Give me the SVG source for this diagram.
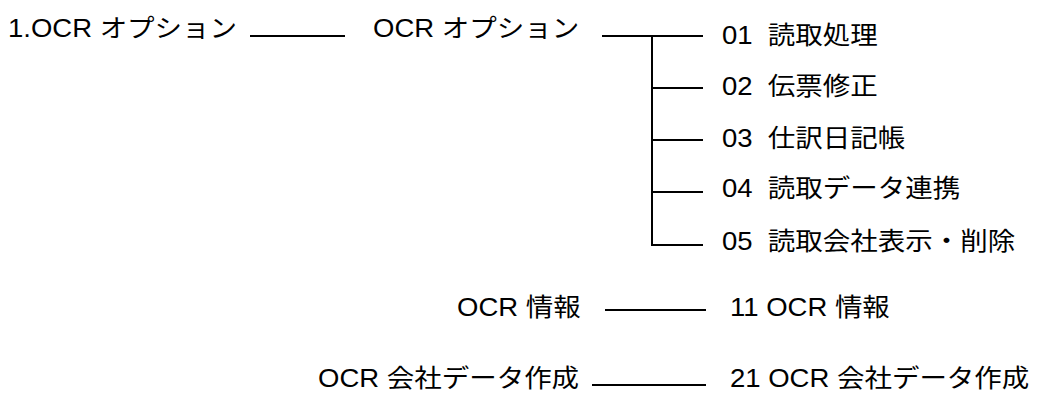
<svg xmlns="http://www.w3.org/2000/svg" width="1038" height="399" viewBox="0 0 1038 399">
<style>
text{font-family:"Liberation Sans","Noto Sans CJK JP",sans-serif;font-size:25px;fill:#000;white-space:pre}
.c line{stroke:#000;stroke-width:2}
</style>
<rect width="1038" height="399" fill="#fff"/>
<g class="c" id="connectors">
<line x1="250" y1="36" x2="345" y2="36"/>
<line x1="602" y1="36" x2="703" y2="36"/>
<line x1="652" y1="35" x2="652" y2="246"/>
<line x1="652" y1="88" x2="703" y2="88"/>
<line x1="652" y1="140" x2="703" y2="140"/>
<line x1="652" y1="192" x2="703" y2="192"/>
<line x1="652" y1="245" x2="703" y2="245"/>
<line x1="605" y1="310" x2="706" y2="310"/>
<line x1="592" y1="385" x2="706" y2="385"/>
</g>
<g id="n-root"><text transform="translate(8 37) scale(1.1 1)">1.OCR オプション</text></g>
<g id="n-ocr-option"><text transform="translate(373 37) scale(1.1 1)">OCR オプション</text></g>
<g id="n-01"><text transform="translate(722 44) scale(1.1 1)">01  読取処理</text></g>
<g id="n-02"><text transform="translate(722 95) scale(1.1 1)">02  伝票修正</text></g>
<g id="n-03"><text transform="translate(722 147) scale(1.1 1)">03  仕訳日記帳</text></g>
<g id="n-04"><text transform="translate(722 197) scale(1.1 1)">04  読取データ連携</text></g>
<g id="n-05"><text transform="translate(722 250) scale(1.1 1)">05  読取会社表示・削除</text></g>
<g id="n-ocr-info"><text transform="translate(457 316) scale(1.1 1)">OCR 情報</text></g>
<g id="n-11"><text transform="translate(730 316) scale(1.1 1)">11 OCR 情報</text></g>
<g id="n-ocr-company"><text transform="translate(318 387) scale(1.1 1)">OCR 会社データ作成</text></g>
<g id="n-21"><text transform="translate(730 387) scale(1.1 1)">21 OCR 会社データ作成</text></g>
</svg>
